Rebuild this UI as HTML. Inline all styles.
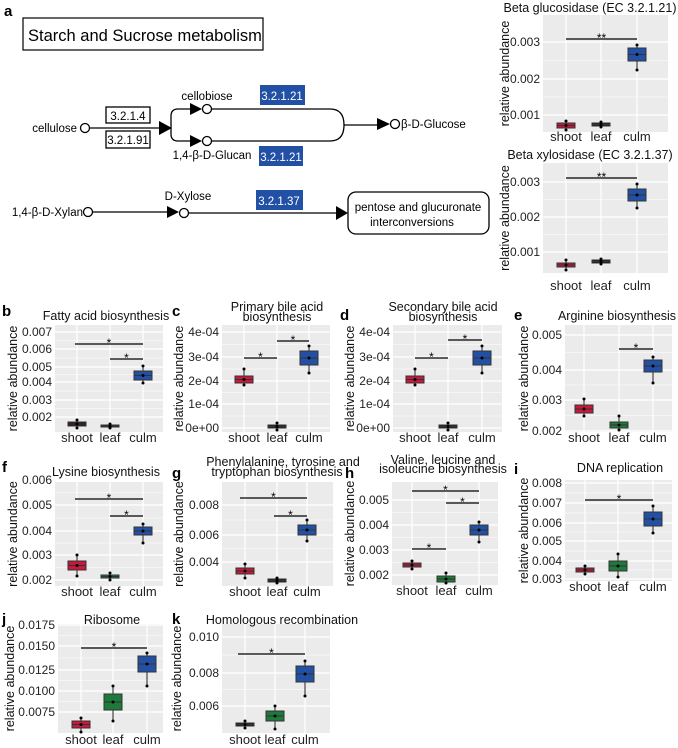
<!DOCTYPE html>
<html><head><meta charset="utf-8"><style>
html,body{margin:0;padding:0;background:#fff;}
svg{display:block;font-family:"Liberation Sans",Arial,sans-serif;}
</style></head><body>
<svg id="s" width="678" height="748" viewBox="0 0 678 748" xmlns="http://www.w3.org/2000/svg">
<!-- Panel a diagram -->
<text x="4" y="16" font-size="15" font-weight="bold">a</text>
<rect x="23" y="18" width="240" height="32" fill="#fff" stroke="#000" stroke-width="1.2"/>
<text x="28" y="41" font-size="16.5">Starch and Sucrose metabolism</text>
<g stroke="#000" stroke-width="1.3" fill="none">
<line x1="90" y1="128" x2="162" y2="128"/>
<path d="M171 128 V116 Q171 109 178 109 H196"/>
<path d="M171 128 V134 Q171 141 178 141 H196"/>
<path d="M212 109 H330 Q344 109 344 125 Q344 141 330 141 H212"/>
<line x1="344" y1="125" x2="380" y2="125"/>
<line x1="93" y1="212" x2="170" y2="212"/>
<line x1="189" y1="213" x2="338" y2="213"/>
</g>
<g fill="#000">
<polygon points="159,121 172,128 159,135"/>
<polygon points="190,103 202,109 190,115"/>
<polygon points="190,135 202,141 190,147"/>
<polygon points="377,118 390,124 377,130"/>
<polygon points="167,206 179,212 167,218"/>
<polygon points="336,206 348,213 336,220"/>
</g>
<g fill="#fff" stroke="#000" stroke-width="1.3">
<circle cx="85" cy="128" r="4.5"/>
<circle cx="207" cy="109" r="4.5"/>
<circle cx="207" cy="141" r="4.5"/>
<circle cx="395" cy="124" r="4.5"/>
<circle cx="88" cy="212" r="4.5"/>
<circle cx="184" cy="213" r="4.5"/>
<rect x="106" y="107" width="44" height="16"/>
<rect x="106" y="131" width="44" height="17"/>
<rect x="348" y="192" width="141" height="42" rx="8"/>
</g>
<g font-size="11.5">
<text x="77" y="132" text-anchor="end">cellulose</text>
<text x="128" y="120" text-anchor="middle">3.2.1.4</text>
<text x="128" y="144" text-anchor="middle">3.2.1.91</text>
<text x="207" y="100" text-anchor="middle">cellobiose</text>
<text x="212" y="159" text-anchor="middle">1,4-β-D-Glucan</text>
<text x="401" y="128">β-D-Glucose</text>
<text x="83" y="216" text-anchor="end">1,4-β-D-Xylan</text>
<text x="188" y="200" text-anchor="middle">D-Xylose</text>
<text x="418" y="211" text-anchor="middle">pentose and glucuronate</text>
<text x="412" y="226" text-anchor="middle">interconversions</text>
</g>
<g fill="#2150a5">
<rect x="260" y="85" width="45" height="20"/>
<rect x="259" y="146" width="44" height="20"/>
<rect x="256" y="190" width="47" height="20"/>
</g>
<g font-size="11.5" fill="#fff" text-anchor="middle">
<text x="282" y="100">3.2.1.21</text>
<text x="281" y="161">3.2.1.21</text>
<text x="279" y="205">3.2.1.37</text>
</g>
<g id="plots"></g>
</svg>
<script>
var out='';
var RED='#c8183c',GRN='#1e7a3a',BLU='#2150a5',BLK='#2a1818';
function P(o){
 var x0=o.x0,x1=o.x1,y0=o.y0,y1=o.y1,s='';
 s+='<rect x="'+x0+'" y="'+y0+'" width="'+(x1-x0)+'" height="'+(y1-y0)+'" fill="#ebebeb"/>';
 // minor grid
 for(var i=0;i<o.ticks.length-1;i++){var m=(o.ticks[i][1]+o.ticks[i+1][1])/2;s+='<line x1="'+x0+'" x2="'+x1+'" y1="'+m+'" y2="'+m+'" stroke="#fff" stroke-width="0.6"/>';}
 o.ticks.forEach(function(t){s+='<line x1="'+x0+'" x2="'+x1+'" y1="'+t[1]+'" y2="'+t[1]+'" stroke="#fff" stroke-width="1.2"/>';
  s+='<text x="'+(x0-3)+'" y="'+(t[1]+4)+'" font-size="12" text-anchor="end" fill="#222">'+t[0]+'</text>';});
 o.cats.forEach(function(c){s+='<line y1="'+y0+'" y2="'+y1+'" x1="'+c+'" x2="'+c+'" stroke="#fff" stroke-width="1.2"/>';});
 var names=['shoot','leaf','culm'];
 o.cats.forEach(function(c,i){s+='<text x="'+c+'" y="'+o.xl+'" font-size="13" text-anchor="middle" fill="#222">'+names[i]+'</text>';});
 var w=o.bw||18;
 o.boxes.forEach(function(b,i){var c=o.cats[i];
  s+='<line x1="'+c+'" x2="'+c+'" y1="'+b[2]+'" y2="'+b[3]+'" stroke="#222" stroke-width="1"/>';
  s+='<rect x="'+(c-w/2)+'" y="'+b[0]+'" width="'+w+'" height="'+Math.max(b[1]-b[0],2)+'" fill="'+b[4]+'" stroke="#333" stroke-width="1"/>';
  var md=(b[0]+b[1])/2;s+='<line x1="'+(c-w/2)+'" x2="'+(c+w/2)+'" y1="'+md+'" y2="'+md+'" stroke="#333" stroke-width="1"/>';
  s+='<circle cx="'+c+'" cy="'+b[2]+'" r="1.5"/><circle cx="'+c+'" cy="'+b[3]+'" r="1.5"/><circle cx="'+c+'" cy="'+md+'" r="1.5"/>';});
 (o.sig||[]).forEach(function(g){s+='<line x1="'+g[0]+'" x2="'+g[1]+'" y1="'+g[2]+'" y2="'+g[2]+'" stroke="#000" stroke-width="1.2"/>';
  s+='<text x="'+((g[0]+g[1])/2)+'" y="'+(g[2]+3)+'" font-size="12" text-anchor="middle">'+(g[3]||'*')+'</text>';});
 o.title.forEach(function(t){s+='<text x="'+t[1]+'" y="'+t[2]+'" font-size="12.5" text-anchor="middle" fill="#111">'+t[0]+'</text>';});
 var yc=(y0+y1)/2;
 s+='<text transform="translate('+(o.yx)+','+yc+') rotate(-90)" font-size="12.5" text-anchor="middle" fill="#111">relative abundance</text>';
 if(o.L)s+='<text x="'+o.L[1]+'" y="'+o.L[2]+'" font-size="15" font-weight="bold">'+o.L[0]+'</text>';
 out+=s;
}
// a top
P({x0:543,x1:668,y0:15,y1:132,ticks:[['0.003',42],['0.002',79],['0.001',115]],cats:[566,601,637],xl:141,
 boxes:[[123,128,121,130,RED],[123,126,122,127,BLK],[48,61,45,70,BLU]],sig:[[566,637,39,'**']],
 title:[['Beta glucosidase (EC 3.2.1.21)',590,12]],yx:509});
P({x0:543,x1:668,y0:163,y1:273,ticks:[['0.003',182],['0.002',217],['0.001',252]],cats:[566,601,637],xl:290,
 boxes:[[263,267,260,270,RED],[260,263,259,264,BLK],[189,201,184,208,BLU]],sig:[[566,637,178,'**']],
 title:[['Beta xylosidase (EC 3.2.1.37)',590,159]],yx:509});
// b
P({x0:55,x1:163,y0:325,y1:432,ticks:[['0.007',332],['0.006',349],['0.005',367],['0.004',382],['0.003',400],['0.002',417]],cats:[77,110,143],xl:442,
 boxes:[[422,426,420,428,BLK],[425,427,424,428,BLK],[371,380,366,383,BLU]],sig:[[75,143,344],[110,143,359]],
 title:[['Fatty acid biosynthesis',106,320]],yx:17,L:['b',2,316]});
// c
P({x0:222,x1:330,y0:325,y1:432,ticks:[['4e-04',332],['3e-04',357],['2e-04',381],['1e-04',404],['0e+00',428]],cats:[244,277,309],xl:442,
 boxes:[[376,383,369,385,RED],[425,428,423,430,BLK],[351,365,346,373,BLU]],sig:[[244,277,358],[277,309,341]],
 title:[['Primary bile acid',277,311],['biosynthesis',277,321]],yx:183,L:['c',172,316]});
// d
P({x0:393,x1:502,y0:325,y1:432,ticks:[['4e-04',332],['3e-04',357],['2e-04',381],['1e-04',404],['0e+00',428]],cats:[415,448,482],xl:442,
 boxes:[[376,383,369,385,RED],[425,428,423,430,BLK],[351,365,346,373,BLU]],sig:[[415,448,358],[448,482,340]],
 title:[['Secondary bile acid',443,311],['biosynthesis',443,321]],yx:354,L:['d',340,320]});
// e
P({x0:565,x1:672,y0:325,y1:432,ticks:[['0.005',335],['0.004',370],['0.003',400],['0.002',431]],cats:[584,619,653],xl:442,
 boxes:[[405,413,399,416,RED],[422,428,416,430,GRN],[360,372,357,383,BLU]],sig:[[619,653,349]],
 title:[['Arginine biosynthesis',617,320]],yx:528,L:['e',514,320]});
// f
P({x0:55,x1:163,y0:482,y1:586,ticks:[['0.006',480],['0.005',505],['0.004',531],['0.003',555],['0.002',580]],cats:[77,110,143],xl:596,
 boxes:[[561,570,555,576,RED],[575,578,573,580,GRN],[527,535,524,543,BLU]],sig:[[75,143,499],[110,143,516]],
 title:[['Lysine biosynthesis',106,476]],yx:17,L:['f',2,472]});
// g
P({x0:222,x1:333,y0:482,y1:586,ticks:[['0.008',505],['0.006',535],['0.004',562]],cats:[245,277,307],xl:596,
 boxes:[[568,574,564,578,RED],[579,582,578,583,BLK],[525,535,520,541,BLU]],sig:[[240,307,498],[274,307,516]],
 title:[['Phenylalanine, tyrosine and',283,466],['tryptophan biosynthesis',277,476]],yx:183,L:['g',172,478]});
// h
P({x0:392,x1:498,y0:482,y1:585,ticks:[['0.005',500],['0.004',525],['0.003',550],['0.002',575]],cats:[412,446,479],xl:595,
 boxes:[[563,567,561,569,RED],[576,582,573,583,GRN],[525,535,522,542,BLU]],sig:[[412,479,491],[446,479,503],[412,446,549]],
 title:[['Valine, leucine and',443,464],['isoleucine biosynthesis',443,473]],yx:354,L:['h',345,478]});
// i
P({x0:565,x1:672,y0:480,y1:581,ticks:[['0.008',483],['0.007',503],['0.006',523],['0.005',541],['0.004',561],['0.003',579]],cats:[585,618,653],xl:591,
 boxes:[[568,572,566,574,RED],[561,571,554,577,GRN],[512,526,506,533,BLU]],sig:[[585,653,500]],
 title:[['DNA replication',620,472]],yx:528,L:['i',514,474]});
// j
P({x0:58,x1:163,y0:624,y1:733,ticks:[['0.0175',625],['0.0150',646],['0.0125',670],['0.0100',691],['0.0075',712]],cats:[81,113,147],xl:744,
 boxes:[[721,728,718,732,RED],[694,710,686,721,GRN],[656,672,653,686,BLU]],sig:[[81,147,648]],
 title:[['Ribosome',112,624]],yx:14,L:['j',2,624]});
// k
P({x0:222,x1:330,y0:624,y1:733,ticks:[['0.010',637],['0.008',673],['0.006',706]],cats:[245,275,305],xl:744,
 boxes:[[723,726,721,728,BLK],[711,721,706,729,GRN],[666,682,661,696,BLU]],sig:[[238,305,654]],
 title:[['Homologous recombination',282,624]],yx:181,L:['k',172,624]});
document.getElementById('plots').innerHTML=out;
</script>
</body></html>
